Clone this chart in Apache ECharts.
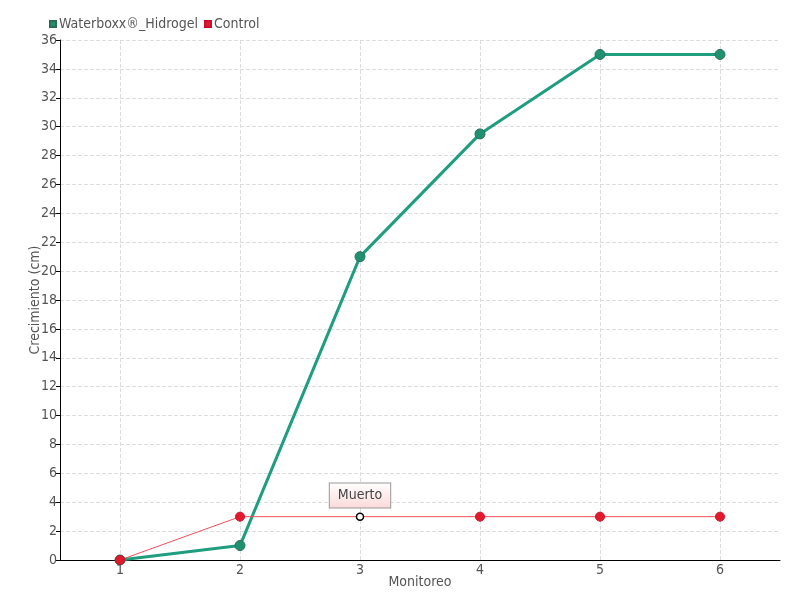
<!DOCTYPE html>
<html>
<head>
<meta charset="utf-8">
<script src="https://cdn.jsdelivr.net/npm/echarts@6/dist/echarts.min.js"></script>
<style>
  body { margin: 0; background: #fff; }
  #chart { width: 800px; height: 600px; }
</style>
</head>
<body>
<div id="chart"></div>
<script>
var months = ['1', '2', '3', '4', '5', '6']
var hidrogel = [0, 1, 21, 29.5, 35, 35]
var control = [0, 3, 3, 3, 3, 3]
var deadIndex = 2
var deadLabel = 'Muerto'

var font = '"DejaVu Sans Condensed", "Liberation Sans Narrow", sans-serif'

var controlData = control.map(function (v, i) {
  if (i !== deadIndex) return v
  return {
    value: v,
    symbolSize: 7,
    itemStyle: { color: '#fff', borderColor: '#000', borderWidth: 1.5 },
    label: {
      show: true,
      position: 'top',
      distance: 5,
      formatter: deadLabel,
      color: '#444',
      fontSize: 14,
      fontFamily: font,
      padding: [5, 8, 5, 8],
      borderColor: '#999',
      borderWidth: 1,
      backgroundColor: {
        type: 'linear', x: 0, y: 0, x2: 0, y2: 1,
        colorStops: [{ offset: 0, color: '#fff' }, { offset: 1, color: '#fcd9d9' }]
      }
    }
  }
})

var chart = echarts.init(document.getElementById('chart'))
chart.setOption({
  animation: false,
  textStyle: { fontFamily: font },
  legend: {
    left: 44,
    top: 12,
    itemWidth: 6,
    itemHeight: 6,
    itemGap: 6,
    icon: 'rect',
    textStyle: { color: '#555', fontSize: 14, fontFamily: font, padding: [0, 0, 0, -2] },
    data: ['Waterboxx®_Hidrogel', 'Control']
  },
  grid: { left: 60, right: 20, top: 40, bottom: 40 },
  xAxis: {
    type: 'category',
    data: months,
    boundaryGap: true,
    name: 'Monitoreo',
    nameLocation: 'middle',
    nameGap: 15,
    nameMoveOverlap: false,
    nameTextStyle: { color: '#555', fontSize: 14 },
    axisLine: { lineStyle: { color: '#000' } },
    axisTick: { alignWithLabel: true, length: 6, lineStyle: { color: '#000' } },
    axisLabel: { color: '#555', fontSize: 14, margin: 3 },
    splitLine: { show: true, alignWithLabel: true, lineStyle: { color: '#ddd', type: 'dashed' } }
  },
  yAxis: {
    type: 'value',
    min: 0,
    max: 36,
    interval: 2,
    name: 'Crecimiento (cm)',
    nameLocation: 'middle',
    nameGap: 18,
    nameMoveOverlap: false,
    nameTextStyle: { color: '#555', fontSize: 14 },
    axisLine: { show: true, lineStyle: { color: '#000' } },
    axisTick: { show: true, length: 4, lineStyle: { color: '#000' } },
    axisLabel: { color: '#555', fontSize: 14, margin: 3 },
    splitLine: { lineStyle: { color: '#ddd', type: 'dashed' } }
  },
  series: [
    {
      name: 'Waterboxx®_Hidrogel',
      type: 'line',
      data: hidrogel,
      symbol: 'circle',
      symbolSize: 10,
      color: '#1f9d7f',
      lineStyle: { width: 3, color: '#1f9d7f' },
      itemStyle: { color: '#1f9070', borderColor: '#2b6e58', borderWidth: 1 }
    },
    {
      name: 'Control',
      type: 'line',
      data: controlData,
      symbol: 'circle',
      symbolSize: 9,
      color: '#e8192c',
      lineStyle: { width: 1, color: '#f5505c' },
      itemStyle: { color: '#e31a2c', borderColor: '#c8102a', borderWidth: 1 }
    }
  ]
})
</script>
</body>
</html>
